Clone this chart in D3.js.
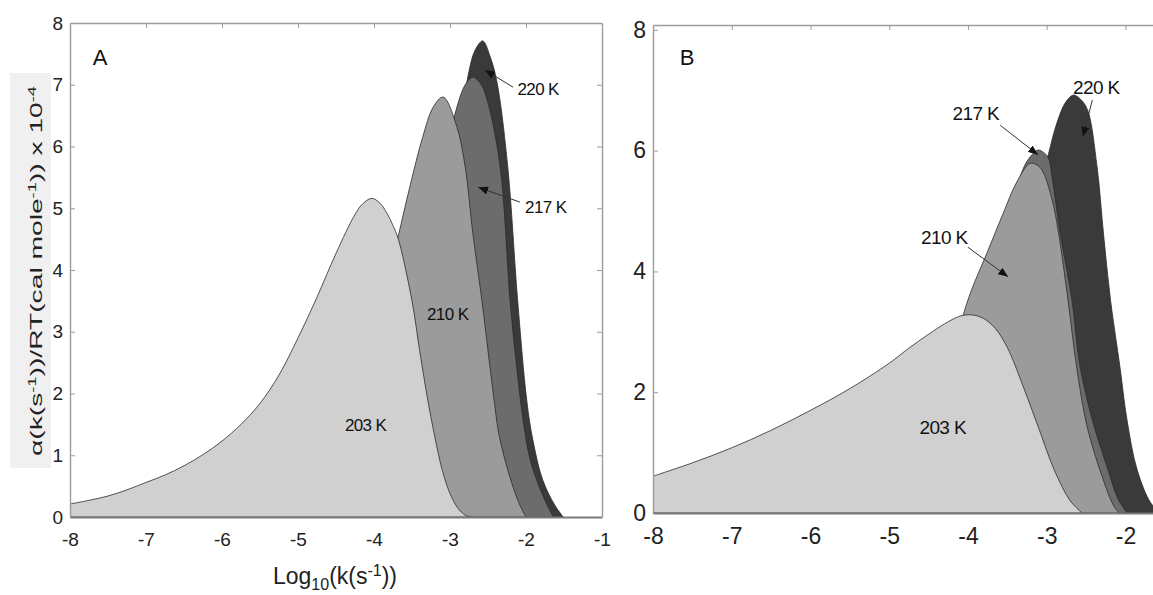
<!DOCTYPE html>
<html>
<head>
<meta charset="utf-8">
<script src="https://cdn.jsdelivr.net/npm/d3@7"></script>
<style>
  html, body { margin: 0; padding: 0; background: #fff; }
  svg { display: block; font-family: "Liberation Sans", Arial, sans-serif; }
</style>
</head>
<body>
<svg id="chart" width="1153" height="595"></svg>
<script>
// Relaxation spectra: alpha(k)/RT versus log10(k) at four temperatures.
// Each series is a list of [log10 k, value x 1e-4] pairs.

// Panel A
const A203 = [[-8,0.21],[-7.75,0.27],[-7.5,0.34],[-7.25,0.44],[-7,0.56],[-6.75,0.68],[-6.5,0.83],[-6.25,1.01],[-6,1.23],[-5.75,1.5],[-5.5,1.84],[-5.25,2.3],[-5,2.9],[-4.75,3.56],[-4.5,4.27],[-4.25,4.9],[-4.15,5.07],[-4.03,5.16],[-3.92,5.08],[-3.83,4.92],[-3.75,4.72],[-3.68,4.5],[-3.5,3.5],[-3.4,2.7],[-3.3,1.95],[-3.2,1.3],[-3.1,0.75],[-3.0,0.38],[-2.9,0.15],[-2.8,0.03],[-2.72,0]];
const A210 = [[-8,0],[-6,0.03],[-5,0.4],[-4.5,1.4],[-4,3.0],[-3.8,3.9],[-3.68,4.55],[-3.53,5.34],[-3.36,6.15],[-3.22,6.64],[-3.09,6.8],[-2.91,6.32],[-2.8,5.67],[-2.7,4.6],[-2.58,3.5],[-2.42,1.9],[-2.35,1.3],[-2.2,0.6],[-2.08,0.19],[-2.0,0]];
const A217 = [[-8,0],[-5,0.05],[-4,0.9],[-3.5,3.0],[-3.2,5.0],[-3.05,5.9],[-2.92,6.59],[-2.8,7.0],[-2.7,7.12],[-2.6,7.02],[-2.51,6.75],[-2.34,5.67],[-2.21,3.51],[-2.12,2.4],[-2.03,1.5],[-1.95,0.95],[-1.86,0.6],[-1.72,0.19],[-1.64,0]];
const A220 = [[-8,0],[-4.5,0.05],[-3.5,1.2],[-3.0,4.8],[-2.85,6.4],[-2.76,7.16],[-2.67,7.56],[-2.57,7.71],[-2.47,7.45],[-2.38,7.03],[-2.24,5.67],[-2.11,3.51],[-1.99,1.89],[-1.91,1.25],[-1.78,0.6],[-1.62,0.19],[-1.51,0]];

// Panel B
const B203 = [[-8,0.61],[-7.5,0.83],[-7,1.08],[-6.5,1.37],[-6,1.7],[-5.5,2.06],[-5,2.48],[-4.75,2.73],[-4.5,2.96],[-4.3,3.13],[-4.1,3.26],[-3.95,3.28],[-3.8,3.22],[-3.65,3.05],[-3.5,2.74],[-3.3,2.1],[-3.1,1.4],[-2.9,0.7],[-2.7,0.2],[-2.55,0]];
const B210 = [[-8,0],[-6,0.08],[-5,0.7],[-4.5,1.7],[-4.2,2.7],[-3.97,3.64],[-3.76,4.3],[-3.55,4.97],[-3.38,5.48],[-3.21,5.79],[-3.1,5.74],[-3.04,5.63],[-2.93,5.18],[-2.85,4.64],[-2.73,3.53],[-2.62,2.42],[-2.49,1.45],[-2.3,0.62],[-2.15,0.12],[-2.08,0]];
const B217 = [[-8,0],[-5,0.2],[-4,2.2],[-3.6,4.3],[-3.4,5.3],[-3.27,5.78],[-3.18,5.94],[-3.11,6.01],[-3.04,5.97],[-2.98,5.88],[-2.92,5.45],[-2.83,4.64],[-2.68,3.53],[-2.58,2.45],[-2.42,1.54],[-2.22,0.71],[-2.1,0.25],[-1.98,0]];
const B220 = [[-8,0],[-5,0.1],[-4,1.2],[-3.4,3.6],[-3.1,5.3],[-2.98,5.93],[-2.87,6.46],[-2.76,6.8],[-2.66,6.92],[-2.57,6.85],[-2.48,6.67],[-2.36,5.73],[-2.28,4.64],[-2.19,3.53],[-2.07,2.42],[-1.98,1.54],[-1.85,0.71],[-1.68,0.17],[-1.55,0]];

const temperatures = ["220 K", "217 K", "210 K", "203 K"];   // back to front
const xTicks = [-8, -7, -6, -5, -4, -3, -2, -1];
const yTicksA = [0, 1, 2, 3, 4, 5, 6, 7, 8];
const yTicksB = [0, 2, 4, 6, 8];

const fills = { "220 K": "#3a3a3a", "217 K": "#6c6c6c", "210 K": "#9b9b9b", "203 K": "#d0d0d0" };

const svg = d3.select("#chart");

const defs = svg.append("defs");
defs.append("marker")
  .attr("id", "arrowhead")
  .attr("markerUnits", "userSpaceOnUse")
  .attr("markerWidth", 10).attr("markerHeight", 8)
  .attr("refX", 10).attr("refY", 4)
  .attr("orient", "auto")
  .append("path").attr("d", "M0,0 L10,4 L0,8 Z").attr("fill", "#111");

function drawPanel(cfg) {
  const { x, y, series, yTicks, letter, notes, rightBorder, id, tickFont } = cfg;
  const [x0, x1] = x.range();
  const [y0, y1] = y.range();
  const g = svg.append("g");

  defs.append("clipPath").attr("id", "clip" + id)
    .append("rect").attr("x", x0).attr("y", y1).attr("width", x1 - x0).attr("height", y0 - y1);

  const area = d3.area()
    .x(d => x(d[0]))
    .y0(y(0))
    .y1(d => y(d[1]))
    .curve(d3.curveCatmullRom.alpha(0.5));

  const plot = g.append("g").attr("clip-path", `url(#clip${id})`);
  temperatures.forEach(t => {
    plot.append("path")
      .datum(series[t])
      .attr("d", area)
      .attr("fill", fills[t])
      .attr("stroke", "#2b2b2b")
      .attr("stroke-width", 0.8);
  });

  const axisColor = "#9c9c9c";
  const styleAxis = sel => {
    sel.select(".domain").attr("stroke", axisColor).attr("stroke-width", 1.4);
    sel.selectAll(".tick line").attr("stroke", axisColor);
    sel.selectAll(".tick text")
      .attr("fill", "#222")
      .style("font-size", tickFont + "px")
      .style("font-family", "'Liberation Sans', Arial, sans-serif");
  };

  // left axis with inward ticks
  g.append("g").attr("transform", `translate(${x0},0)`)
    .call(d3.axisLeft(y).tickValues(yTicks).tickSizeInner(-5).tickSizeOuter(0).tickPadding(7).tickFormat(d => String(d)))
    .call(styleAxis);

  // bottom axis
  const bottom = g.append("g").attr("transform", `translate(0,${y0})`)
    .call(d3.axisBottom(x).tickValues(xTicks.filter(v => v >= x.domain()[0] && v <= x.domain()[1]))
      .tickSizeInner(0).tickSizeOuter(0).tickPadding(cfg.xPad).tickFormat(d => String(d)))
    .call(styleAxis);
  bottom.select(".domain").attr("stroke", "#7a7a7a").attr("stroke-width", 1.8);

  // top border with inward ticks
  g.append("g").attr("transform", `translate(0,${y1})`)
    .call(d3.axisTop(x).tickValues(xTicks.filter(v => v > x.domain()[0] && v < x.domain()[1]))
      .tickSizeInner(-5).tickSizeOuter(0).tickFormat(""))
    .call(styleAxis);

  if (rightBorder) {
    g.append("g").attr("transform", `translate(${x1},0)`)
      .call(d3.axisRight(y).tickValues(yTicks.filter(v => v > 0 && v < 8))
        .tickSizeInner(-5).tickSizeOuter(0).tickFormat(""))
      .call(styleAxis);
  }

  // panel letter
  g.append("text")
    .attr("x", x(letter.at[0])).attr("y", y(letter.at[1]))
    .attr("dy", "0.35em")
    .style("font-size", "22px").attr("fill", "#111")
    .text(letter.text);

  // temperature annotations
  notes.forEach(n => {
    g.append("text")
      .attr("x", x(n.at[0])).attr("y", y(n.at[1]))
      .attr("dy", "0.35em")
      .attr("text-anchor", "middle")
      .style("font-size", n.size + "px")
      .style("letter-spacing", "-0.6px")
      .attr("fill", "#111")
      .text(n.text);
    if (n.from) {
      g.append("line")
        .attr("x1", x(n.from[0])).attr("y1", y(n.from[1]))
        .attr("x2", x(n.to[0])).attr("y2", y(n.to[1]))
        .attr("stroke", "#333").attr("stroke-width", 1)
        .attr("marker-end", "url(#arrowhead)");
    }
  });
}

const xA = d3.scaleLinear().domain([-8, -1]).range([70, 602]);
const yA = d3.scaleLinear().domain([0, 8]).range([517, 23]);
const xB = d3.scaleLinear().domain([-8, -1.65]).range([653, 1153]);
const yB = d3.scaleLinear().domain([0, 8.08]).range([513, 25]);

// y-axis title with shaded backing
svg.append("rect").attr("x", 10).attr("y", 73).attr("width", 41).attr("height", 395).attr("fill", "#f0f0f0");
const ylab = svg.append("text")
  .attr("transform", "translate(42,271) rotate(-90) scale(1.66,1)")
  .attr("text-anchor", "middle")
  .style("font-size", "17px")
  .attr("fill", "#222");
ylab.append("tspan").text("α(k(s");
ylab.append("tspan").attr("dy", -6).style("font-size", "11px").text("-1");
ylab.append("tspan").attr("dy", 6).text("))/RT(cal mole");
ylab.append("tspan").attr("dy", -6).style("font-size", "11px").text("-1");
ylab.append("tspan").attr("dy", 6).text(")) x 10");
ylab.append("tspan").attr("dy", -6).style("font-size", "11px").text("-4");

// x-axis title
const xlab = svg.append("text")
  .attr("x", 335).attr("y", 584)
  .attr("text-anchor", "middle")
  .style("font-size", "23px")
  .attr("fill", "#222");
xlab.append("tspan").text("Log");
xlab.append("tspan").attr("dy", 6).style("font-size", "16px").text("10");
xlab.append("tspan").attr("dy", -6).text("(k(s");
xlab.append("tspan").attr("dy", -8).style("font-size", "16px").text("-1");
xlab.append("tspan").attr("dy", 8).text("))");

drawPanel({
  id: "A", x: xA, y: yA, yTicks: yTicksA, rightBorder: true, tickFont: 19, xPad: 16,
  series: { "203 K": A203, "210 K": A210, "217 K": A217, "220 K": A220 },
  letter: { text: "A", at: [-7.7, 7.45] },
  notes: [
    { text: "220 K", at: [-1.84, 6.93], size: 17, from: [-2.17, 6.96], to: [-2.54, 7.24] },
    { text: "217 K", at: [-1.74, 5.02], size: 17, from: [-2.08, 5.10], to: [-2.63, 5.34] },
    { text: "210 K", at: [-3.03, 3.29], size: 17 },
    { text: "203 K", at: [-4.11, 1.49], size: 17 }
  ]
});

drawPanel({
  id: "B", x: xB, y: yB, yTicks: yTicksB, rightBorder: false, tickFont: 23, xPad: 15,
  series: { "203 K": B203, "210 K": B210, "217 K": B217, "220 K": B220 },
  letter: { text: "B", at: [-7.66, 7.55] },
  notes: [
    { text: "220 K", at: [-2.37, 7.05], size: 19, from: [-2.42, 6.84], to: [-2.54, 6.23] },
    { text: "217 K", at: [-3.90, 6.62], size: 19, from: [-3.59, 6.42], to: [-3.11, 5.93] },
    { text: "210 K", at: [-4.30, 4.57], size: 19, from: [-4.0, 4.40], to: [-3.49, 3.91] },
    { text: "203 K", at: [-4.32, 1.41], size: 19 }
  ]
});
</script>
</body>
</html>
